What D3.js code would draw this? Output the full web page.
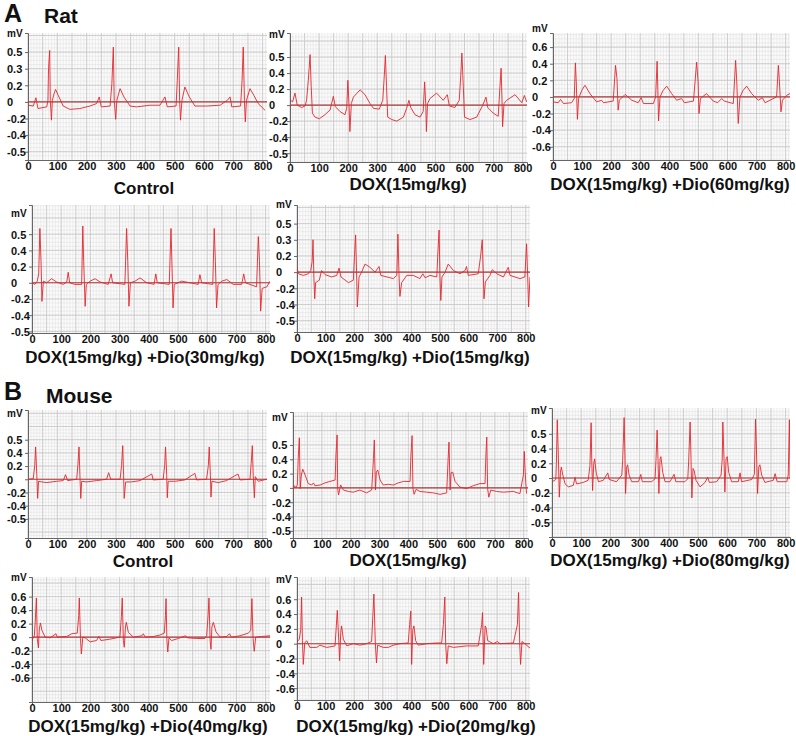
<!DOCTYPE html>
<html><head><meta charset="utf-8">
<script src="https://cdn.jsdelivr.net/npm/d3@7"></script>
<style>
html,body{margin:0;padding:0;background:#fff;}
svg{display:block;font-family:"Liberation Sans",Arial,sans-serif;}
</style></head>
<body>
<svg id="fig" width="796" height="736"></svg>
<script>
// ---------- DATA ----------
const xTicks = [0,100,200,300,400,500,600,700,800];
const yTickValues = [0.6,0.4,0.2,0,-0.2,-0.4,-0.6];
const yLabelsA = ["0.5","0.3","0.2","0","-0.2","-0.4","-0.5"];
const yLabelsB = ["0.5","0.4","0.2","0","-0.2","-0.4","-0.5"];
const yLabelsC = ["0.6","0.4","0.2","0","-0.2","-0.4","-0.6"];
const titles = ["Control","DOX(15mg/kg)","DOX(15mg/kg) +Dio(60mg/kg)","DOX(15mg/kg) +Dio(30mg/kg)","DOX(15mg/kg) +Dio(15mg/kg)",
                "Control","DOX(15mg/kg)","DOX(15mg/kg) +Dio(80mg/kg)","DOX(15mg/kg) +Dio(40mg/kg)","DOX(15mg/kg) +Dio(20mg/kg)"];
const sectionLabels = [["A","Rat"],["B","Mouse"]];

// ECG traces: [time, mV]
const ratControl = [[1,-0.04],[18,-0.05],[27,0.05],[34,-0.08],[64,-0.06],[68,0.02],[70,0.40],[74,0.62],[76,0.02],[80,-0.22],[83,0.02],[89,0.10],[94,0.15],[103,0.08],[120,-0.05],[143,-0.09],[177,-0.08],[211,-0.05],[234,-0.02],[243,0.06],[250,-0.06],[280,-0.05],[286,0.22],[291,0.66],[294,0.02],[299,-0.21],[303,0.02],[314,0.16],[327,0.06],[348,-0.05],[370,-0.06],[416,-0.04],[450,-0.04],[467,0.06],[475,-0.06],[505,-0.05],[509,0.26],[514,0.66],[517,0.02],[520,-0.22],[525,0.02],[535,0.18],[550,0.06],[569,-0.05],[609,-0.05],[655,-0.04],[680,0.02],[689,0.06],[695,-0.06],[725,-0.05],[730,0.26],[734,0.66],[738,0.02],[741,-0.24],[745,0.02],[757,0.16],[770,0.08],[785,-0.02],[808,-0.10]];
const ratDox = [[2,0.06],[9,0.04],[17,0.15],[25,0],[40,-0.03],[52,-0.01],[57,0.06],[63,0.31],[69,0.63],[73,0.23],[77,-0.10],[86,-0.15],[101,-0.17],[120,-0.12],[138,-0.06],[149,0.11],[156,-0.02],[172,-0.08],[189,-0.12],[195,-0.04],[199,0.31],[203,0],[206,-0.33],[211,0.02],[218,0.10],[241,0.19],[258,0.13],[275,0.02],[287,-0.04],[307,-0.05],[319,0.06],[324,0.35],[328,0.62],[332,0.23],[336,-0.15],[350,-0.18],[367,-0.20],[390,-0.15],[401,-0.04],[409,0.06],[415,-0.03],[430,-0.12],[447,-0.15],[458,-0.08],[463,0.29],[467,0],[469,-0.33],[473,0.02],[481,0.08],[504,0.15],[527,0.06],[541,0.13],[548,-0.01],[567,-0.03],[582,0.06],[587,0.35],[591,0.65],[596,0.23],[600,-0.15],[619,-0.18],[642,-0.15],[663,0],[674,0.10],[680,-0.03],[699,-0.10],[716,-0.14],[722,0.23],[726,0.46],[729,0.06],[731,-0.27],[736,0.02],[745,0.06],[774,0.13],[797,0.03],[806,0.12],[814,0.04]];
const ratDio60 = [[1,-0.06],[18,-0.07],[26,-0.03],[36,-0.08],[64,-0.07],[73,-0.02],[77,0.41],[80,0.18],[84,-0.27],[88,-0.02],[99,0.08],[110,0.14],[127,0.04],[150,-0.06],[167,-0.04],[174,-0.07],[207,-0.05],[215,0.38],[220,0.22],[224,-0.16],[228,-0.04],[248,0.03],[271,-0.04],[293,-0.07],[303,-0.01],[311,-0.08],[345,-0.08],[353,0],[358,0.43],[360,0.18],[363,-0.29],[368,0],[379,0.08],[391,0.13],[408,0.04],[425,-0.04],[442,-0.02],[452,-0.07],[483,-0.05],[494,0.42],[499,0.18],[502,-0.20],[507,-0.02],[528,0.04],[551,-0.05],[566,-0.07],[580,-0.02],[589,-0.05],[620,-0.08],[628,0.44],[632,0.18],[637,-0.32],[643,0],[654,0.08],[666,0.13],[683,0.04],[706,-0.04],[720,-0.01],[729,-0.07],[769,0],[775,0.38],[778,0.22],[784,-0.18],[789,-0.04],[804,0.02],[815,0.04]];
const ratDio30 = [[0,0],[10,-0.02],[18,0.02],[23,0.11],[27,0.67],[31,0.26],[34,-0.23],[39,0.02],[50,0],[67,0.05],[84,0.01],[107,-0.02],[119,0.01],[124,0.13],[129,0],[147,-0.02],[170,-0.02],[174,0.70],[177,0.26],[182,-0.29],[186,-0.02],[199,0.02],[216,0.05],[233,0.01],[261,-0.02],[271,0.11],[276,0],[318,-0.02],[324,0.67],[328,0.26],[332,-0.29],[337,0],[353,0.02],[370,0.06],[393,0],[418,-0.02],[424,0.11],[429,0],[470,-0.02],[476,0.67],[479,0.26],[483,-0.31],[487,-0.02],[512,0.02],[541,0],[569,-0.02],[575,0.10],[581,0],[619,-0.02],[624,0.67],[628,0.26],[632,-0.31],[637,-0.02],[650,0.02],[667,0.04],[689,-0.02],[718,-0.02],[725,0.11],[731,0],[769,-0.05],[775,0.57],[779,0.26],[783,-0.35],[788,-0.07],[804,-0.05],[815,0.02]];
const ratDio15 = [[0,0.06],[5,-0.02],[22,-0.04],[40,-0.02],[48,0.02],[53,0.13],[56,0.40],[59,-0.06],[62,-0.33],[65,-0.13],[78,-0.10],[86,0.02],[98,-0.03],[121,-0.06],[139,-0.04],[147,0.05],[154,-0.06],[180,-0.13],[197,-0.10],[201,0.19],[205,0.46],[209,-0.10],[211,-0.43],[217,-0.06],[226,0],[238,0.10],[255,0.06],[273,0],[287,0.07],[293,-0.04],[337,-0.08],[349,-0.04],[353,0.47],[357,-0.06],[360,-0.30],[366,-0.13],[384,-0.04],[407,-0.04],[430,-0.08],[440,-0.02],[448,-0.07],[465,-0.04],[489,-0.06],[492,0.19],[497,0.52],[500,-0.06],[503,-0.35],[507,-0.06],[518,0],[529,0.10],[547,0.02],[570,-0.02],[588,0.02],[593,0.07],[599,-0.04],[634,-0.02],[642,0.19],[648,0.40],[652,-0.06],[654,-0.33],[659,-0.12],[675,-0.04],[683,0.03],[699,-0.02],[722,-0.06],[739,0.06],[745,-0.04],[780,-0.08],[797,-0.06],[803,0.35],[807,-0.06],[810,-0.43],[815,-0.06]];
const mouseControl = [[1,0],[18,0.01],[23,0.21],[26,0.49],[30,0.06],[33,-0.29],[36,-0.03],[47,-0.04],[64,-0.05],[98,-0.03],[120,-0.02],[128,0.07],[135,-0.02],[166,0],[170,0.21],[174,0.49],[177,0.06],[180,-0.29],[183,-0.03],[200,-0.04],[234,-0.02],[268,0],[275,0.10],[282,0],[314,0],[319,0.21],[323,0.51],[326,0.06],[328,-0.29],[333,-0.04],[353,-0.04],[382,-0.02],[422,0.08],[427,-0.01],[461,0],[466,0.21],[469,0.49],[473,0.06],[475,-0.28],[478,-0.03],[501,-0.03],[535,-0.01],[569,0.09],[575,-0.01],[609,0],[615,0.21],[618,0.49],[622,0.06],[624,-0.27],[627,-0.03],[649,-0.05],[677,-0.02],[716,0.08],[723,-0.01],[757,0],[761,0.24],[765,0.51],[768,0.06],[772,-0.28],[775,0.04],[785,-0.03],[814,0]];
const mouseDox = [[1,-0.01],[5,0.03],[10,0],[15,0.04],[18,0.41],[22,0.70],[25,-0.01],[29,0.18],[34,0.26],[42,0.18],[53,0.06],[65,0.04],[71,0.07],[76,0.03],[94,0.04],[111,0.07],[128,0.09],[146,0.11],[149,0.46],[153,0.74],[155,-0.01],[158,-0.10],[165,0.04],[175,-0.03],[192,-0.05],[209,-0.06],[232,-0.03],[255,-0.07],[273,-0.03],[279,0.41],[282,0.67],[286,-0.03],[289,0.22],[294,0.25],[302,0.11],[313,0.04],[331,0.05],[348,0.04],[365,0.07],[383,0.09],[406,0.09],[409,0.46],[413,0.73],[416,-0.01],[420,-0.09],[427,-0.02],[440,-0.05],[464,-0.06],[487,-0.07],[510,-0.09],[533,-0.07],[538,0.41],[541,0.64],[545,-0.03],[548,0.21],[554,0.22],[562,0.09],[579,0.01],[602,-0.01],[625,0.03],[648,0.06],[666,0.06],[669,0.46],[672,0.71],[675,-0.01],[679,-0.13],[686,-0.03],[706,-0.05],[729,-0.06],[764,-0.05],[787,-0.08],[799,0.18],[802,0.51],[807,0.08],[810,-0.08]];
const mouseDio80 = [[1,-0.05],[13,-0.02],[15,0.20],[18,0.79],[22,0.26],[25,-0.26],[29,0.08],[32,0.15],[37,0.04],[45,-0.08],[56,-0.12],[73,-0.10],[79,0.01],[84,-0.08],[107,-0.06],[124,-0.03],[130,0.17],[134,0.75],[136,0.26],[139,-0.17],[143,0.20],[146,0.26],[151,0.08],[159,-0.05],[176,-0.03],[191,0.07],[196,-0.02],[221,-0.05],[239,0.04],[242,0.24],[247,0.82],[250,0.26],[252,-0.21],[256,0.15],[259,0.18],[264,0.04],[273,-0.05],[296,-0.05],[304,0.05],[309,-0.05],[341,-0.05],[353,-0.01],[356,0.24],[360,0.65],[363,0.26],[366,-0.21],[370,0.26],[373,0.29],[379,0.08],[387,-0.05],[404,-0.05],[418,0.05],[424,-0.05],[455,-0.05],[465,-0.01],[468,0.23],[473,0.76],[476,0.26],[479,-0.27],[483,0.13],[487,0.10],[493,-0.03],[507,-0.12],[524,-0.06],[533,0.01],[539,-0.06],[564,-0.05],[579,0.04],[583,0.26],[585,0.76],[589,0.26],[592,-0.19],[596,0.26],[600,0.29],[605,0.08],[615,-0.05],[638,-0.05],[644,0.07],[649,-0.05],[684,-0.02],[693,0.05],[697,0.80],[701,0.26],[704,-0.21],[708,0.15],[712,0.18],[718,0.04],[729,-0.06],[758,-0.03],[764,0.06],[771,-0.05],[804,-0.05],[809,0.04],[813,0.79],[815,-0.01]];
const mouseDio40 = [[0,-0.06],[3,-0.02],[8,0.02],[11,0.22],[15,0.58],[18,-0.02],[22,-0.16],[25,0.12],[29,0.21],[34,0.10],[45,0],[62,-0.01],[82,0.05],[87,0],[119,0.01],[136,0.05],[155,0.06],[160,0.32],[162,0.58],[166,-0.02],[169,-0.25],[174,0],[182,-0.01],[199,-0.07],[221,-0.05],[229,0.01],[236,-0.05],[267,-0.03],[301,0],[306,0.30],[309,0.58],[313,-0.05],[316,-0.15],[320,0.15],[323,0.22],[330,0.07],[347,0],[376,0.02],[381,0.05],[388,0],[416,0.01],[438,0.03],[453,0.06],[457,0.32],[459,0.57],[462,-0.05],[465,-0.22],[469,-0.01],[478,-0.05],[501,-0.02],[526,0.02],[532,-0.01],[564,-0.02],[592,-0.02],[598,0.02],[603,0.32],[606,0.58],[610,-0.05],[613,-0.18],[616,0.15],[621,0.22],[630,0.08],[644,0],[667,0.01],[676,0.05],[683,0],[712,0.02],[741,0.06],[749,0.10],[753,0.57],[757,-0.02],[761,-0.21],[766,0],[787,0.01],[815,0.02]];
const mouseDio20 = [[1,0.03],[8,0.06],[13,0.19],[16,0.63],[19,0.04],[22,-0.28],[27,0.01],[34,0.04],[45,-0.05],[69,-0.05],[80,-0.02],[104,-0.05],[133,-0.03],[141,0.45],[146,0.04],[149,-0.23],[153,0.15],[156,0.24],[162,0.06],[174,-0.03],[197,0],[220,-0.02],[244,0],[261,0.03],[269,0.67],[274,0],[278,-0.26],[282,-0.02],[302,-0.05],[319,-0.05],[337,-0.02],[360,0],[389,0.01],[394,0.26],[398,0.44],[401,-0.28],[405,0.19],[409,0.24],[415,0.04],[424,-0.02],[454,0],[489,0.01],[506,0.01],[512,0.26],[517,0.63],[520,0],[524,-0.27],[529,-0.03],[547,-0.05],[593,-0.03],[634,-0.03],[646,0.26],[649,0.42],[653,-0.28],[658,0.24],[661,0.22],[667,0.04],[687,0],[701,0.03],[710,0],[757,0.01],[771,0.26],[775,0.69],[779,0],[782,-0.28],[787,0.03],[797,0],[815,-0.06]];

// ---------- LAYOUT ----------
const panels = [
  {data:ratControl,  labels:yLabelsA, title:titles[0], l:28,  t:33,  r:267, b:160, yMin:-0.70, yMax:0.83, tx:144, ty:194, mvDy:4},
  {data:ratDox,      labels:yLabelsB, title:titles[1], l:290, t:33,  r:527, b:162, yMin:-0.71, yMax:0.90, tx:408, ty:190, mvDy:5},
  {data:ratDio60,    labels:yLabelsC, title:titles[2], l:553, t:33,  r:790, b:160, yMin:-0.76, yMax:0.77, tx:670, ty:190, mvDy:-1},
  {data:ratDio30,    labels:yLabelsB, title:titles[3], l:32,  t:205, r:270, b:333, yMin:-0.62, yMax:0.96, tx:145, ty:363, mvDy:12},
  {data:ratDio15,    labels:yLabelsA, title:titles[4], l:297, t:205, r:530, b:332, yMin:-0.74, yMax:0.83, tx:410, ty:363, mvDy:3},
  {data:mouseControl,labels:yLabelsB, title:titles[5], l:28,  t:410, r:267, b:538, yMin:-0.89, yMax:1.05, tx:143, ty:567, mvDy:7},
  {data:mouseDox,    labels:yLabelsB, title:titles[6], l:293, t:412, r:528, b:538, yMin:-0.70, yMax:1.06, tx:408, ty:566, mvDy:9},
  {data:mouseDio80,  labels:yLabelsB, title:titles[7], l:552, t:408, r:790, b:537, yMin:-0.80, yMax:0.95, tx:670, ty:566, mvDy:6},
  {data:mouseDio40,  labels:yLabelsC, title:titles[8], l:32,  t:577, r:270, b:702, yMin:-0.96, yMax:0.89, tx:148, ty:732, mvDy:4},
  {data:mouseDio20,  labels:yLabelsC, title:titles[9], l:297, t:577, r:530, b:700, yMin:-0.76, yMax:0.90, tx:416, ty:732, mvDy:6}
];
const sectionPos = [{x:4,y:22,x2:44,y2:23},{x:4,y:400,x2:46,y2:403}];

const svg = d3.select("#fig");

// section headers
sectionLabels.forEach((s,i)=>{
  const p = sectionPos[i];
  svg.append("text").attr("x",p.x).attr("y",p.y).attr("font-size",25).attr("font-weight","bold").attr("fill","#111").text(s[0]);
  svg.append("text").attr("x",p.x2).attr("y",p.y2).attr("font-size",21).attr("font-weight","bold").attr("fill","#111").text(s[1]);
});

panels.forEach((p,i)=>{
  const x = d3.scaleLinear().domain([0,815]).range([p.l,p.r]);
  const y = d3.scaleLinear().domain([p.yMin,p.yMax]).range([p.b,p.t]);
  const g = svg.append("g");

  // background
  g.append("rect").attr("x",p.l).attr("y",p.t).attr("width",p.r-p.l).attr("height",p.b-p.t).attr("fill","#fbfbfb");

  // minor grid
  const xMinor = d3.range(0,816,10);
  const yMinor = d3.range(Math.ceil(p.yMin/0.05)*0.05, p.yMax, 0.05);
  g.append("g").selectAll("line").data(xMinor).join("line")
    .attr("x1",d=>x(d)).attr("x2",d=>x(d)).attr("y1",p.t).attr("y2",p.b)
    .attr("stroke","#e2e2e2").attr("stroke-width",0.6);
  g.append("g").selectAll("line").data(yMinor).join("line")
    .attr("x1",p.l).attr("x2",p.r).attr("y1",d=>y(d)).attr("y2",d=>y(d))
    .attr("stroke","#e2e2e2").attr("stroke-width",0.6);
  // major grid
  const xMajor = d3.range(0,816,50);
  const yMajor = d3.range(Math.ceil(p.yMin/0.2)*0.2, p.yMax, 0.2);
  g.append("g").selectAll("line").data(xMajor).join("line")
    .attr("x1",d=>x(d)).attr("x2",d=>x(d)).attr("y1",p.t).attr("y2",p.b)
    .attr("stroke","#c6c6c6").attr("stroke-width",0.8);
  g.append("g").selectAll("line").data(yMajor).join("line")
    .attr("x1",p.l).attr("x2",p.r).attr("y1",d=>y(d)).attr("y2",d=>y(d))
    .attr("stroke","#c6c6c6").attr("stroke-width",0.8);

  // axes
  const xAxis = d3.axisBottom(x).tickValues(xTicks).tickSize(3).tickFormat(d3.format("d"));
  const ax = g.append("g").attr("transform",`translate(0,${p.b})`).call(xAxis);
  ax.select(".domain").attr("stroke","#666");
  ax.selectAll(".tick line").attr("stroke","#666");
  ax.selectAll("text").attr("font-size",11).attr("font-weight","bold").attr("fill","#111")
    .attr("font-family","'Liberation Sans',Arial,sans-serif").attr("dy","0.55em").attr("y",4);

  const yAxis = d3.axisLeft(y).tickValues(yTickValues).tickSize(3).tickFormat((d,k)=>p.labels[k]);
  const ay = g.append("g").attr("transform",`translate(${p.l},0)`).call(yAxis);
  ay.select(".domain").attr("stroke","#666");
  ay.selectAll(".tick line").attr("stroke","#666");
  ay.selectAll("text").attr("font-size",11).attr("font-weight","bold").attr("fill","#111")
    .attr("font-family","'Liberation Sans',Arial,sans-serif")
    .attr("text-anchor","start").attr("x",-21).attr("dy","0.35em");

  // mV unit
  g.append("text").attr("x",p.l-21).attr("y",p.t+p.mvDy).attr("font-size",10).attr("font-weight","bold")
    .attr("fill","#111").text("mV");

  // zero baseline
  g.append("line").attr("x1",p.l).attr("x2",p.r).attr("y1",y(0)).attr("y2",y(0))
    .attr("stroke","#b03a3a").attr("stroke-width",1.1);

  // trace
  const clipId = "clip"+i;
  g.append("clipPath").attr("id",clipId).append("rect")
    .attr("x",p.l).attr("y",p.t).attr("width",p.r-p.l).attr("height",p.b-p.t);
  const line = d3.line().x(d=>x(d[0])).y(d=>y(d[1]));
  g.append("path").datum(p.data).attr("d",line).attr("clip-path",`url(#${clipId})`)
    .attr("fill","none").attr("stroke","#e3262c").attr("stroke-width",0.9).attr("stroke-linejoin","round");

  // title
  svg.append("text").attr("x",p.tx).attr("y",p.ty).attr("text-anchor","middle")
    .attr("font-size",17).attr("font-weight","bold").attr("fill","#111").text(p.title);
});
</script>
</body></html>
